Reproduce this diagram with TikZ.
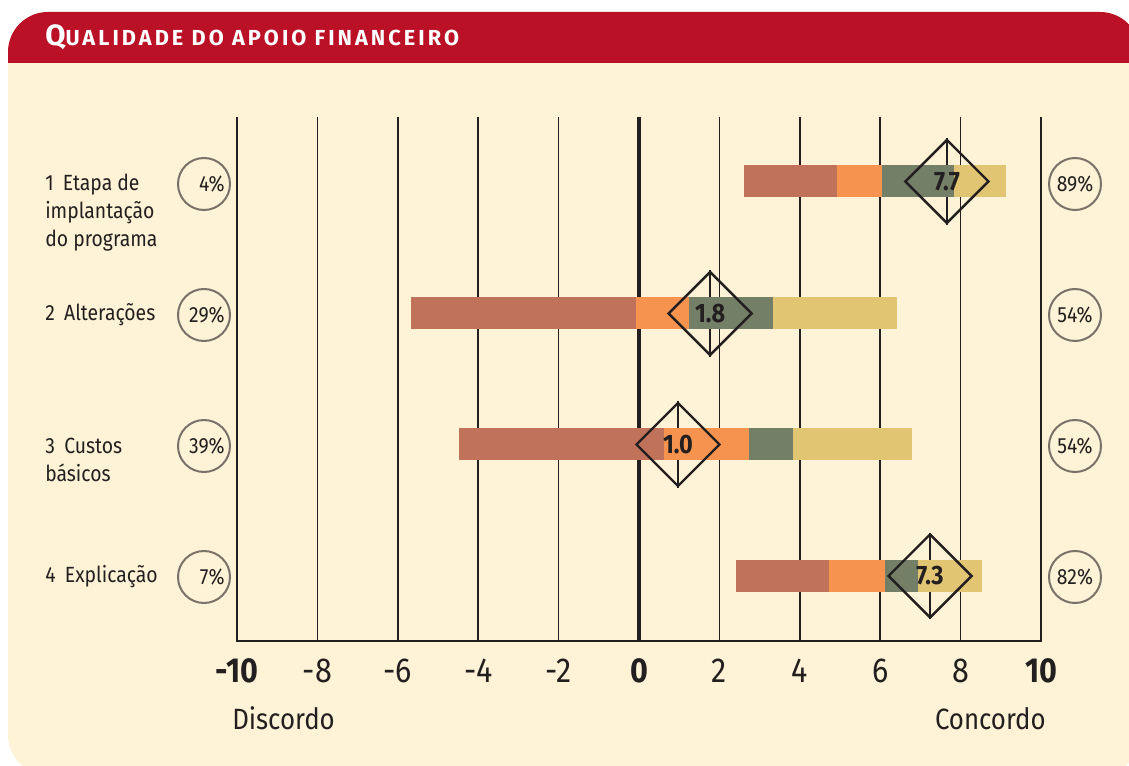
\documentclass[tikz,border=0pt]{standalone}
\usepackage{fontspec}
\setmainfont{Fira Sans}[FakeStretch=0.88]
\newfontfamily\titlefont{Fira Sans}[LetterSpace=14]
\usetikzlibrary{shapes.geometric}

\pgfdeclarelayer{back}
\pgfdeclarelayer{bars}
\pgfsetlayers{back,bars,main}

\definecolor{headred}{RGB}{187,17,38}
\definecolor{cream}{RGB}{254,243,214}
\definecolor{inkgray}{RGB}{35,31,32}
\definecolor{ringgray}{RGB}{122,114,104}
\definecolor{barbrown}{RGB}{192,114,90}
\definecolor{barorange}{RGB}{246,148,79}
\definecolor{bargreen}{RGB}{115,127,103}
\definecolor{baryellow}{RGB}{226,197,114}

\begin{document}
\begin{tikzpicture}[x=0.75pt, y=-0.75pt,
    frameline/.style={draw=inkgray, line width=2.2pt},
    gridline/.style={draw=inkgray, line width=1.1pt},
    zeroline/.style={draw=inkgray, line width=3.4pt},
    marker/.style={diamond, draw=inkgray, line width=1.8pt, minimum width=63pt,
        minimum height=63pt, inner sep=0pt, text=inkgray,
        font=\fontsize{20}{24}\selectfont\bfseries},
    markeraxis/.style={draw=inkgray, line width=1.8pt},
    pct/.style={circle, draw=ringgray, line width=1.5pt, minimum size=39pt,
        inner sep=0pt, text=inkgray, font=\fontsize{16.5}{19}\selectfont},
    rowlbl/.style={align=left, inner sep=0pt, text=inkgray,
        font=\fontsize{16.5}{21}\selectfont},
    ticklbl/.style={anchor=base, inner sep=0pt, text=inkgray,
        font=\fontsize{26}{30}\selectfont},
    endlbl/.style={inner sep=0pt, text=inkgray, font=\fontsize{22}{26}\selectfont},
  ]

\useasboundingbox (0,0) rectangle (1129,766);

\begin{pgfonlayer}{back}
  \fill[white] (0,0) rectangle (1129,766);
  \fill[cream, rounded corners=30pt] (8,12) rectangle (1140,775);
  \begin{scope}
    \clip[rounded corners=30pt] (8,12) rectangle (1140,775);
    \fill[headred] (0,0) rectangle (1140,63);
  \end{scope}
\end{pgfonlayer}

\node[anchor=base west, inner sep=0pt, text=white, font=\titlefont\bfseries] (title) at (45,46)
  {{\fontsize{22}{25}\selectfont Q}{\fontsize{16.3}{19}\selectfont UALIDADE DO APOIO FINANCEIRO}};

% row labels
\node[rowlbl, anchor=west] (lbl1) at (45,213) {1\hspace{7pt}Etapa de\\implantação\\do programa};
\node[rowlbl, anchor=base west] (lbl2) at (45,321) {2\hspace{7pt}Alterações};
\node[rowlbl, anchor=west] (lbl3) at (45,460) {3\hspace{7pt}Custos\\básicos};
\node[rowlbl, anchor=base west] (lbl4) at (45,583) {4\hspace{7pt}Explicação};

% percentages
\node[pct] (pl1) at (204,184) {\makebox[31pt][r]{4\%}};
\node[pct] (pl2) at (204,315) {\makebox[31pt][r]{29\%}};
\node[pct] (pl3) at (204,446) {\makebox[31pt][r]{39\%}};
\node[pct] (pl4) at (204,577) {\makebox[31pt][r]{7\%}};
\node[pct] (pr1) at (1075,184) {89\%};
\node[pct] (pr2) at (1075,315) {54\%};
\node[pct] (pr3) at (1075,446) {54\%};
\node[pct] (pr4) at (1075,577) {82\%};

\begin{scope}[xshift=479.25pt, x=30.15pt]

  \begin{pgfonlayer}{back}
    \foreach \v in {-8,-6,-4,-2,2,4,6,8}
      \draw[gridline] (\v,117) -- (\v,641);
    \draw[zeroline] (0,117) -- (0,641);
    \draw[frameline] (-10,117) -- (-10,641) -- (10,641) -- (10,117);
  \end{pgfonlayer}

  % scale
  \foreach \v in {-8,-6,-4,-2,2,4,6,8}
    \node[ticklbl] (tick\v) at (\v,682) {\v};
  \node[ticklbl, font=\fontsize{26}{30}\selectfont\bfseries] (tickmin) at (-10,682) {-10};
  \node[ticklbl, font=\fontsize{26}{30}\selectfont\bfseries] (tickzero) at (0,682) {0};
  \node[ticklbl, font=\fontsize{26}{30}\selectfont\bfseries] (tickmax) at (10,682) {10};

  % stacked bars
  \begin{pgfonlayer}{bars}
    \foreach \yc/\xa/\xb/\xc/\xd/\xe in {181/2.61/4.93/6.04/7.84/9.13,
        313.5/-5.67/-0.07/1.24/3.33/6.42,
        444.5/-4.48/0.62/2.74/3.83/6.79,
        576/2.41/4.73/6.12/6.94/8.53}{
      \fill[barbrown] (\xa,\yc-16) rectangle (\xb,\yc+16);
      \fill[barorange] (\xb,\yc-16) rectangle (\xc,\yc+16);
      \fill[bargreen] (\xc,\yc-16) rectangle (\xd,\yc+16);
      \fill[baryellow] (\xd,\yc-16) rectangle (\xe,\yc+16);
    }
  \end{pgfonlayer}

  % mean markers
  \node[marker] (m1) at (7.66,181.5) {7.7};
  \node[marker] (m2) at (1.77,313.5) {1.8};
  \node[marker] (m3) at (0.97,444.5) {1.0};
  \node[marker] (m4) at (7.24,576) {7.3};
  \begin{pgfonlayer}{back}
    \foreach \m in {m1,m2,m3,m4}
      \draw[markeraxis] (\m.north) -- (\m.south);
  \end{pgfonlayer}

\end{scope}

\node[endlbl, anchor=base west] (disc) at (232,729) {Discordo};
\node[endlbl, anchor=base east] (conc) at (1046,729) {Concordo};

\end{tikzpicture}
\end{document}
